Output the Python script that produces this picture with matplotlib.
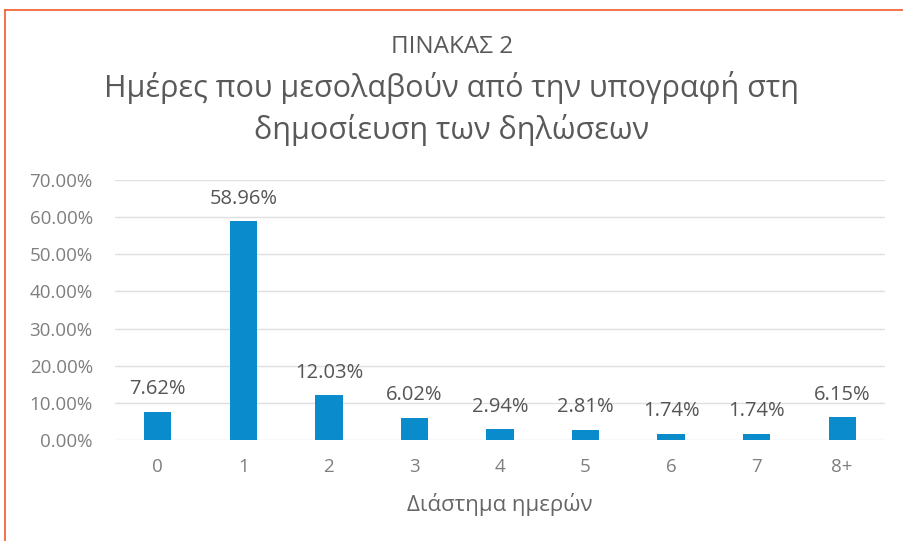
import matplotlib.pyplot as plt
from matplotlib.lines import Line2D

categories = ['0', '1', '2', '3', '4', '5', '6', '7', '8+']
shares = [7.62, 58.96, 12.03, 6.02, 2.94, 2.81, 1.74, 1.74, 6.15]
yticks = [0, 10, 20, 30, 40, 50, 60, 70]

plt.rcParams['font.family'] = ['Open Sans', 'DejaVu Sans']

fig = plt.figure(figsize=(9.04, 5.41), dpi=100)
ax = fig.add_axes([115 / 904, 1 - 440 / 541, 770 / 904, 260 / 541])

x = range(len(categories))
ax.bar(x, shares, width=0.32, color='#0a8bcb', zorder=3)
for i, v in zip(x, shares):
    ax.annotate(f'{v:.2f}%', (i, v), xytext=(0, 9), textcoords='offset points',
                ha='center', va='bottom', fontsize=14.5, color='#555555')

ax.set_xlim(-0.5, len(categories) - 0.5)
ax.set_ylim(0, 70)
ax.set_yticks(yticks)
ax.set_yticklabels([f'{t:.2f}%' for t in yticks])
ax.set_xticks(list(x))
ax.set_xticklabels(categories)
ax.tick_params(length=0, labelsize=13.5, colors='#7f7f7f', pad=16)
ax.tick_params(axis='x', pad=13)
ax.grid(axis='y', color='#e0e0e0', linewidth=1, zorder=0)
for s in ax.spines.values():
    s.set_visible(False)
ax.set_xlabel('Διάστημα ημερών', fontsize=16, color='#666666', labelpad=12)

fig.text(0.5, 1 - 47 / 541, 'ΠΙΝΑΚΑΣ 2', ha='center', va='center', fontsize=17.5, color='#595959')
fig.text(0.5, 1 - 109 / 541, 'Ημέρες που μεσολαβούν από την υπογραφή στη\nδημοσίευση των δηλώσεων',
         ha='center', va='center', fontsize=22, color='#595959', linespacing=1.4)

# orange frame (top and left)
fig.add_artist(Line2D([5 / 904, 1], [1 - 10 / 541, 1 - 10 / 541], color='#f05a2c', lw=1.2))
fig.add_artist(Line2D([5 / 904, 5 / 904], [0, 1 - 10 / 541], color='#f05a2c', lw=1.2))

fig.savefig('out.png', dpi=100)
